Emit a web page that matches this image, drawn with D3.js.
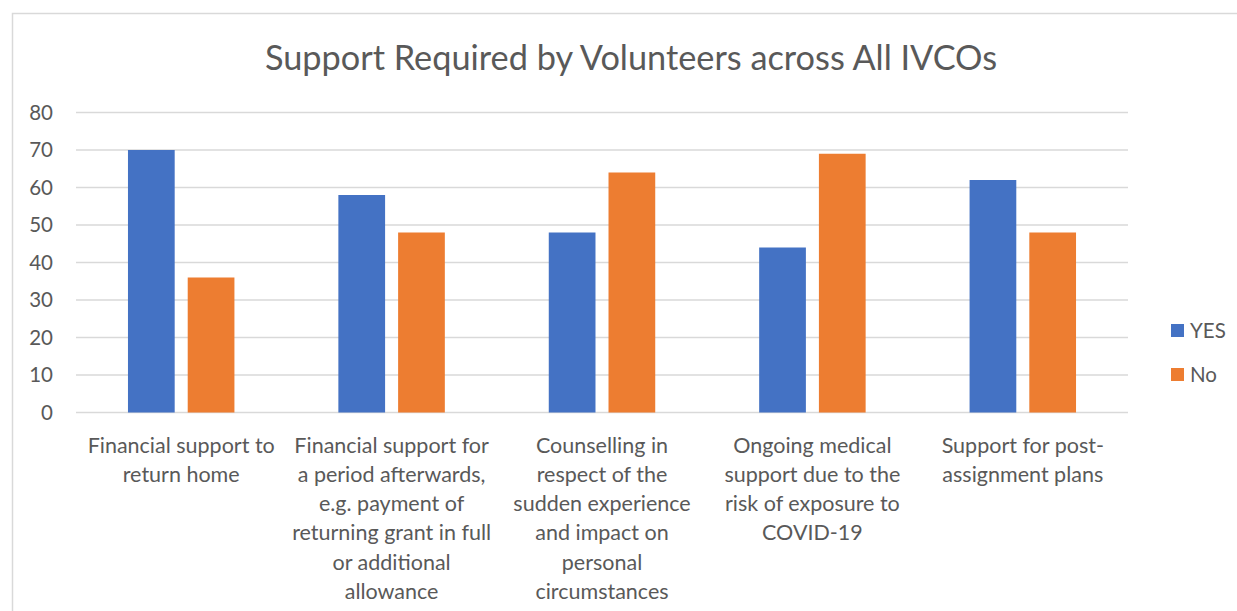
<!DOCTYPE html>
<html>
<head>
<meta charset="utf-8">
<script src="https://cdn.jsdelivr.net/npm/d3@7"></script>
<style>
  body { margin: 0; background: #fff; }
  text { font-family: Lato, "Open Sans", sans-serif; fill: #595959; }
</style>
</head>
<body>
<div id="chart"></div>
<script>
// Chart size
var width = 1237;
var height = 611;

// Data
var categories = [
  ["Financial support to", "return home"],
  ["Financial support for", "a period afterwards,", "e.g. payment of", "returning grant in full", "or additional", "allowance"],
  ["Counselling in", "respect of the", "sudden experience", "and impact on", "personal", "circumstances"],
  ["Ongoing medical", "support due to the", "risk of exposure to", "COVID-19"],
  ["Support for post-", "assignment plans"]
];
var seriesNames = ["YES", "No"];
var yesValues = [70, 58, 48, 44, 62];
var noValues = [36, 48, 64, 69, 48];
var yTicks = [0, 10, 20, 30, 40, 50, 60, 70, 80];
var colors = ["#4472C4", "#ED7D31"];

var catKeys = categories.map(function(c, i) { return i; });
var seriesValues = [yesValues, noValues];

var svg = d3.select("#chart")
  .append("svg")
  .attr("width", width)
  .attr("height", height);

// Outer chart border
svg.append("rect")
  .attr("x", 12.5)
  .attr("y", 13.5)
  .attr("width", 1240)
  .attr("height", 620)
  .attr("fill", "none")
  .attr("stroke", "#d9d9d9")
  .attr("stroke-width", 1.5);

// Title
svg.append("text")
  .attr("x", 631)
  .attr("y", 70)
  .attr("text-anchor", "middle")
  .style("font-size", "34.3px")
  .text("Support Required by Volunteers across All IVCOs");

// Scales
var x0 = d3.scaleBand()
  .domain(catKeys)
  .range([76, 1128])
  .paddingInner(0.494)
  .paddingOuter(0.247);

var x1 = d3.scaleBand()
  .domain(d3.range(seriesNames.length))
  .range([0, x0.bandwidth()])
  .paddingInner(0.218);

var y = d3.scaleLinear()
  .domain([0, 80])
  .range([412.5, 112.5]);

// Gridlines
svg.append("g")
  .selectAll("line")
  .data(yTicks)
  .enter().append("line")
  .attr("x1", 76)
  .attr("x2", 1128)
  .attr("y1", function(d) { return y(d); })
  .attr("y2", function(d) { return y(d); })
  .attr("stroke", "#d9d9d9")
  .attr("stroke-width", 1.5);

// Y axis labels
var yAxis = svg.append("g")
  .attr("transform", "translate(53,0)")
  .call(d3.axisLeft(y).tickValues(yTicks).tickSize(0).tickPadding(0));
yAxis.select(".domain").remove();
yAxis.selectAll("text")
  .style("font-size", "20.5px")
  .style("fill", "#595959")
  .style("font-family", "Lato, sans-serif");

// Bars
var groups = svg.append("g")
  .selectAll("g")
  .data(catKeys)
  .enter().append("g")
  .attr("transform", function(d) { return "translate(" + x0(d) + ",0)"; });

groups.selectAll("rect")
  .data(function(c) {
    return seriesValues.map(function(vals, s) { return { s: s, v: vals[c] }; });
  })
  .enter().append("rect")
  .attr("x", function(d) { return x1(d.s); })
  .attr("width", x1.bandwidth())
  .attr("y", function(d) { return y(d.v); })
  .attr("height", function(d) { return y(0) - y(d.v); })
  .attr("fill", function(d) { return colors[d.s]; });

// Category labels
var labels = svg.append("g")
  .selectAll("text")
  .data(catKeys)
  .enter().append("text")
  .attr("text-anchor", "middle")
  .attr("x", function(d) { return x0(d) + x0.bandwidth() / 2; })
  .attr("y", 452.5)
  .style("font-size", "21.5px");

labels.selectAll("tspan")
  .data(function(d) { return categories[d]; })
  .enter().append("tspan")
  .attr("x", function() { return d3.select(this.parentNode).attr("x"); })
  .attr("dy", function(d, i) { return i === 0 ? 0 : 29.3; })
  .text(function(d) { return d; });

// Legend
var legend = svg.append("g")
  .selectAll("g")
  .data(seriesNames)
  .enter().append("g")
  .attr("transform", function(d, i) { return "translate(1171," + (324 + i * 44) + ")"; });

legend.append("rect")
  .attr("width", 13)
  .attr("height", 13)
  .attr("fill", function(d, i) { return colors[i]; });

legend.append("text")
  .attr("x", 19)
  .attr("y", 13.5)
  .style("font-size", "20.5px")
  .text(function(d) { return d; });
</script>
</body>
</html>
